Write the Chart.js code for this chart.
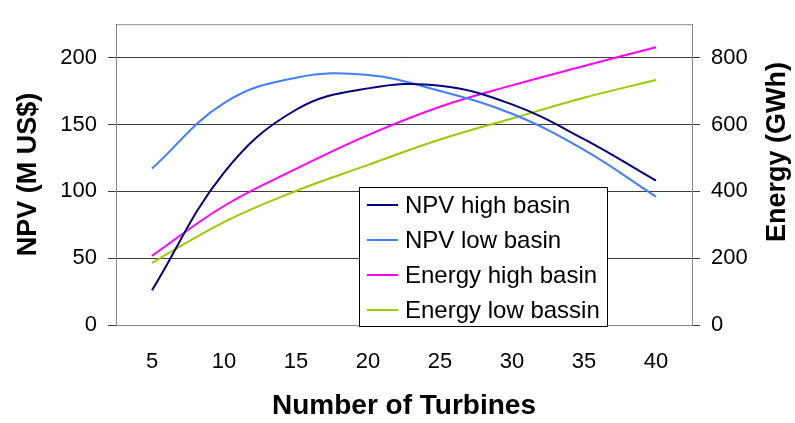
<!DOCTYPE html>
<html>
<head>
<meta charset="utf-8">
<script src="https://cdn.jsdelivr.net/npm/chart.js@4/dist/chart.umd.min.js"></script>
<style>
  html, body { margin: 0; padding: 0; background: #fff; }
  #wrap { width: 795px; height: 423px; }
</style>
</head>
<body>
<div id="wrap"><canvas id="npvChart" width="795" height="423"></canvas></div>
<script>
// turbines vs NPV (left axis) and energy (right axis)
const turbines = [5, 10, 15, 20, 25, 30, 35, 40];
const npvHigh = [26, 114, 161, 177, 179, 165, 139, 108];
const npvLow = [117, 166, 185, 187, 175, 158, 131, 96];
const energyHigh = [207, 356, 467, 568, 653, 717, 775, 831];
const energyLow = [186, 308, 401, 479, 555, 618, 680, 733];

const npvTicks = [0, 50, 100, 150, 200];
const energyTicks = [0, 200, 400, 600, 800];

const FONT = 'Arial, "Liberation Sans", sans-serif';
const GRID = '#3c3c3c';

// box + legend drawn inside the plot area
const boxLegend = {
    id: 'boxLegend',
    beforeDatasetsDraw(chart) {
        const a = chart.chartArea, ctx = chart.ctx;
        ctx.save();
        ctx.strokeStyle = '#8a8a8a';
        ctx.lineWidth = 1;
        ctx.strokeRect(a.left + 0.5, a.top + 0.5, a.right - a.left, a.bottom - a.top);
        ctx.restore();
    },
    afterDraw(chart) {
        const ctx = chart.ctx;
        const x0 = 359, y0 = 187, w = 248, h = 139;
        ctx.save();
        ctx.fillStyle = '#fff';
        ctx.fillRect(x0, y0, w, h);
        ctx.strokeStyle = '#000';
        ctx.lineWidth = 1;
        ctx.strokeRect(x0 + 0.5, y0 + 0.5, w, h);
        ctx.font = '24px ' + FONT;
        ctx.textBaseline = 'middle';
        chart.data.datasets.forEach((ds, i) => {
            const y = 205 + i * 35;
            ctx.strokeStyle = ds.borderColor;
            ctx.lineWidth = 2;
            ctx.beginPath();
            ctx.moveTo(367, y);
            ctx.lineTo(398, y);
            ctx.stroke();
            ctx.fillStyle = '#000';
            ctx.fillText(ds.label, 405, y + 1);
        });

        // right axis title, reads bottom to top
        ctx.translate(778, 152);
        ctx.rotate(-Math.PI / 2);
        ctx.font = 'bold 27px ' + FONT;
        ctx.textAlign = 'center';
        ctx.fillText('Energy (GWh)', 0, 0);
        ctx.restore();
    }
};

new Chart(document.getElementById('npvChart'), {
    type: 'line',
    data: {
        labels: turbines,
        datasets: [
            { label: 'NPV high basin', data: npvHigh, borderColor: '#000080', yAxisID: 'y' },
            { label: 'NPV low basin', data: npvLow, borderColor: '#3f7fff', yAxisID: 'y' },
            { label: 'Energy high basin', data: energyHigh, borderColor: '#ff00ff', yAxisID: 'y1' },
            { label: 'Energy low bassin', data: energyLow, borderColor: '#99cc00', yAxisID: 'y1' }
        ]
    },
    options: {
        responsive: false,
        animation: false,
        layout: { padding: { top: 13, left: 0, right: 0, bottom: 0 } },
        elements: {
            line: { borderWidth: 2, tension: 0.4, fill: false },
            point: { radius: 0 }
        },
        plugins: { legend: { display: false }, tooltip: { enabled: false } },
        scales: {
            x: {
                offset: true,
                grid: { display: true, drawOnChartArea: false, drawTicks: false, offset: true },
                border: { display: true, color: '#000', width: 1 },
                ticks: { color: '#000', font: { family: FONT, size: 22 }, padding: 24, maxRotation: 0 },
                title: { display: true, text: 'Number of Turbines', color: '#000',
                         font: { family: FONT, size: 28, weight: 'bold' }, padding: { top: 0, bottom: 0 } },
                afterFit: s => { s.height = 98; }
            },
            y: {
                position: 'left',
                min: 0, max: 225,
                afterBuildTicks: s => { s.ticks = npvTicks.map(v => ({ value: v })); },
                grid: { color: GRID, lineWidth: 1, tickLength: 8 },
                border: { display: true, color: '#000', width: 1 },
                ticks: { color: '#000', font: { family: FONT, size: 22 }, padding: 11 },
                title: { display: true, text: 'NPV (M US$)', color: '#000',
                         font: { family: FONT, size: 27, weight: 'bold' }, padding: { top: 12, bottom: 0 } },
                afterFit: s => { s.width = 116; }
            },
            y1: {
                position: 'right',
                min: 0, max: 900,
                afterBuildTicks: s => { s.ticks = energyTicks.map(v => ({ value: v })); },
                grid: { drawOnChartArea: false, color: GRID, tickLength: 8 },
                border: { display: true, color: '#000', width: 1 },
                ticks: { color: '#000', font: { family: FONT, size: 22 }, padding: 11 },
                afterFit: s => { s.width = 103; }
            }
        }
    },
    plugins: [boxLegend]
});
</script>
</body>
</html>
